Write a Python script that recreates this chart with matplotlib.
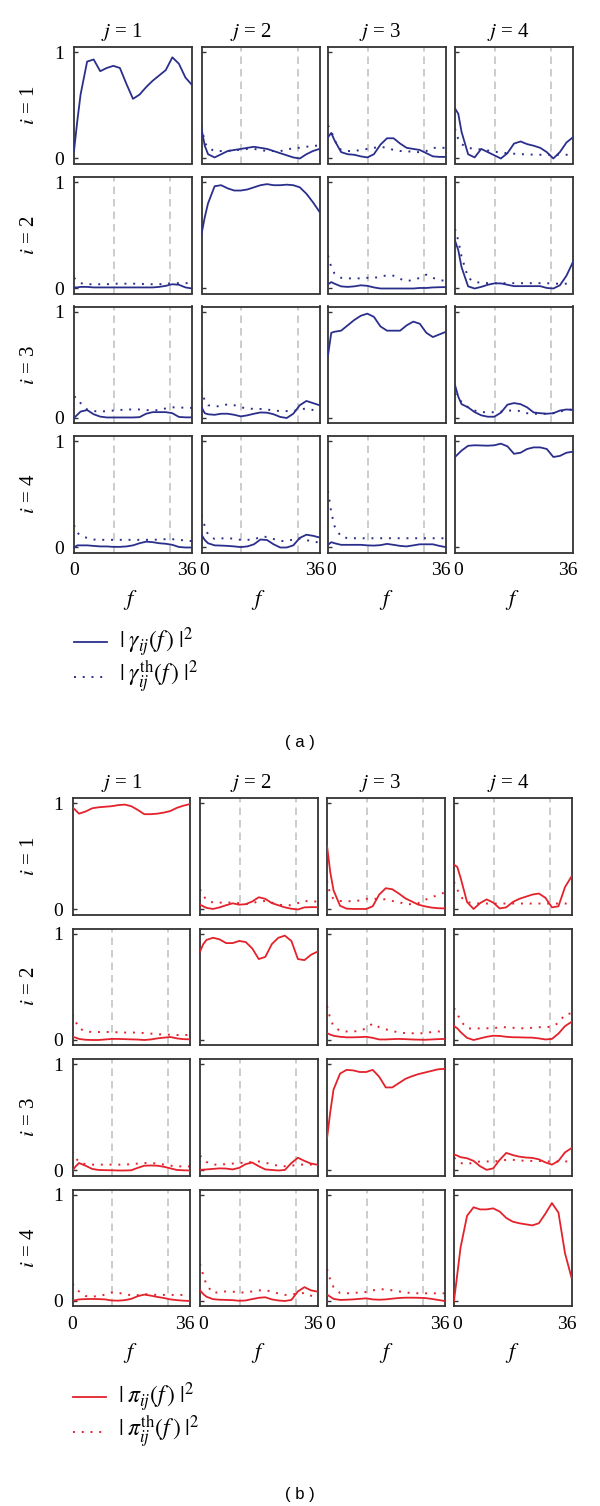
import matplotlib
matplotlib.use('Agg')
import matplotlib.pyplot as plt
import matplotlib.transforms as mtransforms
from matplotlib.lines import Line2D

plt.rcParams['font.family'] = ['Liberation Serif', 'DejaVu Serif']
plt.rcParams['mathtext.fontset'] = 'stix'

# frequency grid (shared by every curve)
F = [0, 1, 2, 4, 6, 8, 10, 12, 14, 16, 18, 20, 22, 24, 26, 28, 30, 32, 34, 36]
DASH_F = [12.2, 29.4]

# ---------------- (a) |gamma_ij(f)|^2 and theoretical ----------------
a11 = [0.07, 0.35, 0.6, 0.91, 0.93, 0.82, 0.85, 0.87, 0.85, 0.7, 0.56, 0.6, 0.67, 0.73, 0.78, 0.83, 0.95, 0.89, 0.76, 0.69]
a12 = [0.28, 0.12, 0.04, 0.01, 0.04, 0.07, 0.08, 0.09, 0.1, 0.11, 0.1, 0.09, 0.07, 0.05, 0.03, 0.01, 0.0, 0.04, 0.07, 0.09]
a12th = [0.3, 0.15, 0.1, 0.07, 0.07, 0.07, 0.08, 0.08, 0.09, 0.09, 0.08, 0.07, 0.07, 0.07, 0.08, 0.1, 0.1, 0.11, 0.12, 0.12]
a13 = [0.2, 0.24, 0.17, 0.06, 0.04, 0.035, 0.02, 0.01, 0.04, 0.13, 0.19, 0.19, 0.14, 0.1, 0.09, 0.08, 0.05, 0.02, 0.015, 0.015]
a13th = [0.31, 0.26, 0.17, 0.08, 0.07, 0.07, 0.08, 0.09, 0.1, 0.11, 0.1, 0.08, 0.07, 0.07, 0.06, 0.06, 0.07, 0.1, 0.1, 0.1]
a14 = [0.47, 0.42, 0.25, 0.04, 0.01, 0.09, 0.06, 0.03, 0.0, 0.05, 0.14, 0.16, 0.135, 0.12, 0.1, 0.06, 0.0, 0.06, 0.15, 0.2]
a14th = [0.28, 0.18, 0.135, 0.1, 0.09, 0.085, 0.075, 0.065, 0.055, 0.05, 0.045, 0.04, 0.04, 0.035, 0.035, 0.035, 0.035, 0.035, 0.035, 0.035]

a21 = [0.01, 0.01, 0.015, 0.015, 0.01, 0.01, 0.01, 0.01, 0.01, 0.01, 0.01, 0.01, 0.01, 0.01, 0.015, 0.025, 0.04, 0.035, 0.01, 0.0]
a21th = [0.1, 0.07, 0.05, 0.04, 0.04, 0.04, 0.04, 0.045, 0.045, 0.045, 0.045, 0.045, 0.04, 0.04, 0.04, 0.045, 0.05, 0.05, 0.05, 0.05]
a22 = [0.51, 0.67, 0.8, 0.96, 0.97, 0.94, 0.92, 0.92, 0.93, 0.95, 0.97, 0.98, 0.97, 0.97, 0.975, 0.97, 0.95, 0.89, 0.81, 0.72]
a23 = [0.04, 0.06, 0.045, 0.02, 0.015, 0.02, 0.03, 0.025, 0.01, 0.0, 0.0, 0.0, 0.0, 0.0, 0.0, 0.005, 0.005, 0.01, 0.012, 0.013]
a23th = [0.31, 0.2, 0.14, 0.1, 0.095, 0.095, 0.095, 0.1, 0.1, 0.11, 0.125, 0.12, 0.09, 0.07, 0.08, 0.1, 0.13, 0.1, 0.08, 0.07]
a24 = [0.45, 0.36, 0.2, 0.02, 0.0, 0.015, 0.035, 0.048, 0.048, 0.035, 0.022, 0.022, 0.022, 0.022, 0.022, 0.005, 0.0, 0.03, 0.12, 0.25]
a24th = [0.56, 0.45, 0.3, 0.1, 0.06, 0.055, 0.05, 0.05, 0.05, 0.05, 0.05, 0.05, 0.05, 0.05, 0.05, 0.05, 0.045, 0.045, 0.045, 0.045]

a31 = [0.0, 0.03, 0.06, 0.075, 0.035, 0.013, 0.005, 0.005, 0.005, 0.005, 0.005, 0.008, 0.04, 0.055, 0.055, 0.055, 0.045, 0.01, 0.006, 0.006]
a31th = [0.2, 0.19, 0.14, 0.08, 0.065, 0.06, 0.065, 0.07, 0.075, 0.08, 0.08, 0.08, 0.075, 0.07, 0.075, 0.09, 0.1, 0.1, 0.095, 0.095]
a32 = [0.1, 0.045, 0.035, 0.03, 0.04, 0.04, 0.03, 0.015, 0.025, 0.04, 0.052, 0.05, 0.035, 0.01, 0.0, 0.04, 0.12, 0.16, 0.14, 0.12]
a32th = [0.27, 0.16, 0.12, 0.11, 0.11, 0.13, 0.12, 0.1, 0.09, 0.085, 0.085, 0.08, 0.07, 0.065, 0.065, 0.065, 0.08, 0.09, 0.075, 0.06]
a33 = [0.59, 0.8, 0.81, 0.82, 0.87, 0.92, 0.96, 0.98, 0.95, 0.86, 0.82, 0.82, 0.82, 0.87, 0.905, 0.885, 0.8, 0.76, 0.785, 0.81]
a34 = [0.31, 0.2, 0.13, 0.1, 0.055, 0.025, 0.012, 0.012, 0.05, 0.125, 0.14, 0.13, 0.1, 0.052, 0.045, 0.04, 0.045, 0.07, 0.08, 0.076]
a34th = [0.23, 0.19, 0.15, 0.1, 0.07, 0.055, 0.054, 0.054, 0.06, 0.07, 0.07, 0.065, 0.045, 0.04, 0.038, 0.04, 0.045, 0.06, 0.075, 0.08]

a41 = [0.0, 0.02, 0.02, 0.02, 0.015, 0.01, 0.01, 0.006, 0.006, 0.01, 0.02, 0.04, 0.055, 0.05, 0.04, 0.035, 0.025, 0.005, 0.0, 0.0]
a41th = [0.21, 0.14, 0.11, 0.09, 0.075, 0.072, 0.072, 0.072, 0.072, 0.072, 0.072, 0.072, 0.072, 0.072, 0.075, 0.078, 0.078, 0.072, 0.065, 0.06]
a42 = [0.12, 0.07, 0.04, 0.02, 0.018, 0.015, 0.01, 0.004, 0.01, 0.03, 0.075, 0.07, 0.03, 0.0, 0.0, 0.02, 0.09, 0.12, 0.11, 0.094]
a42th = [0.3, 0.2, 0.12, 0.08, 0.085, 0.09, 0.08, 0.072, 0.072, 0.075, 0.1, 0.1, 0.08, 0.06, 0.062, 0.075, 0.085, 0.07, 0.055, 0.047]
a43 = [0.025, 0.05, 0.04, 0.025, 0.025, 0.025, 0.025, 0.02, 0.018, 0.022, 0.034, 0.025, 0.015, 0.01, 0.02, 0.03, 0.03, 0.03, 0.015, 0.003]
a43th = [0.53, 0.33, 0.2, 0.1, 0.088, 0.087, 0.087, 0.087, 0.087, 0.087, 0.087, 0.087, 0.087, 0.087, 0.087, 0.087, 0.087, 0.087, 0.087, 0.087]
a44 = [0.85, 0.88, 0.91, 0.955, 0.96, 0.958, 0.956, 0.96, 0.975, 0.95, 0.88, 0.89, 0.925, 0.94, 0.94, 0.925, 0.85, 0.86, 0.89, 0.9]

# ---------------- (b) |pi_ij(f)|^2 and theoretical ----------------
b11 = [0.96, 0.93, 0.9, 0.92, 0.95, 0.96, 0.965, 0.97, 0.98, 0.985, 0.97, 0.935, 0.895, 0.895, 0.9, 0.91, 0.925, 0.955, 0.975, 0.99]
b12 = [0.045, 0.03, 0.015, 0.005, 0.02, 0.04, 0.058, 0.045, 0.05, 0.075, 0.115, 0.1, 0.06, 0.04, 0.02, 0.007, 0.0, 0.02, 0.022, 0.022]
b12th = [0.19, 0.13, 0.09, 0.065, 0.065, 0.065, 0.065, 0.06, 0.05, 0.06, 0.075, 0.08, 0.065, 0.045, 0.04, 0.04, 0.06, 0.08, 0.075, 0.075]
b13 = [0.6, 0.35, 0.18, 0.035, 0.008, 0.005, 0.005, 0.005, 0.03, 0.14, 0.2, 0.19, 0.15, 0.105, 0.075, 0.045, 0.03, 0.018, 0.012, 0.01]
b13th = [0.27, 0.14, 0.1, 0.08, 0.078, 0.078, 0.085, 0.1, 0.1, 0.1, 0.095, 0.08, 0.07, 0.05, 0.05, 0.06, 0.09, 0.115, 0.135, 0.16]
b14 = [0.42, 0.4, 0.3, 0.07, 0.005, 0.06, 0.095, 0.065, 0.01, 0.02, 0.07, 0.1, 0.12, 0.14, 0.15, 0.11, 0.02, 0.03, 0.21, 0.31]
b14th = [0.26, 0.19, 0.12, 0.07, 0.058, 0.056, 0.056, 0.056, 0.056, 0.056, 0.056, 0.056, 0.056, 0.056, 0.056, 0.056, 0.056, 0.056, 0.056, 0.056]

b21 = [0.03, 0.022, 0.01, 0.002, 0.0, 0.0, 0.005, 0.01, 0.01, 0.008, 0.006, 0.004, 0.0, 0.005, 0.015, 0.022, 0.028, 0.015, 0.008, 0.006]
b21th = [0.24, 0.17, 0.11, 0.08, 0.075, 0.075, 0.075, 0.075, 0.072, 0.07, 0.07, 0.07, 0.065, 0.06, 0.055, 0.05, 0.05, 0.047, 0.047, 0.047]
b22 = [0.83, 0.9, 0.94, 0.96, 0.945, 0.91, 0.91, 0.93, 0.92, 0.86, 0.76, 0.78, 0.9, 0.96, 0.98, 0.93, 0.76, 0.75, 0.8, 0.83]
b23 = [0.065, 0.05, 0.04, 0.03, 0.025, 0.025, 0.027, 0.03, 0.02, 0.005, 0.005, 0.008, 0.01, 0.008, 0.005, 0.003, 0.002, 0.005, 0.008, 0.01]
b23th = [0.32, 0.2, 0.13, 0.085, 0.08, 0.08, 0.085, 0.11, 0.155, 0.12, 0.1, 0.085, 0.07, 0.065, 0.063, 0.063, 0.063, 0.075, 0.08, 0.08]
b24 = [0.13, 0.11, 0.075, 0.02, 0.0, 0.015, 0.03, 0.04, 0.038, 0.03, 0.026, 0.025, 0.023, 0.022, 0.015, 0.005, 0.01, 0.06, 0.13, 0.17]
b24th = [0.3, 0.25, 0.18, 0.11, 0.105, 0.11, 0.11, 0.11, 0.12, 0.12, 0.115, 0.11, 0.11, 0.115, 0.12, 0.12, 0.125, 0.16, 0.24, 0.25]

b31 = [0.0, 0.04, 0.07, 0.045, 0.015, 0.005, 0.003, 0.002, 0.0, 0.0, 0.002, 0.025, 0.045, 0.047, 0.045, 0.035, 0.02, 0.005, 0.002, 0.0]
b31th = [0.18, 0.12, 0.075, 0.06, 0.055, 0.055, 0.055, 0.055, 0.055, 0.055, 0.06, 0.065, 0.07, 0.07, 0.065, 0.055, 0.045, 0.04, 0.038, 0.038]
b32 = [0.006, 0.008, 0.01, 0.015, 0.02, 0.018, 0.01, 0.025, 0.06, 0.075, 0.04, 0.01, 0.005, 0.0, 0.005, 0.07, 0.12, 0.09, 0.065, 0.054]
b32th = [0.14, 0.11, 0.08, 0.055, 0.055, 0.06, 0.065, 0.07, 0.075, 0.08, 0.085, 0.075, 0.055, 0.045, 0.04, 0.045, 0.055, 0.055, 0.055, 0.055]
b33 = [0.3, 0.55, 0.76, 0.91, 0.945, 0.94, 0.925, 0.925, 0.945, 0.88, 0.78, 0.78, 0.82, 0.86, 0.885, 0.905, 0.92, 0.935, 0.95, 0.955]
b34 = [0.15, 0.14, 0.125, 0.115, 0.09, 0.04, 0.006, 0.02, 0.1, 0.165, 0.145, 0.13, 0.122, 0.118, 0.105, 0.076, 0.055, 0.09, 0.17, 0.21]
b34th = [0.12, 0.1, 0.07, 0.06, 0.075, 0.085, 0.085, 0.085, 0.09, 0.1, 0.1, 0.095, 0.09, 0.09, 0.09, 0.085, 0.085, 0.085, 0.085, 0.085]

b41 = [0.003, 0.008, 0.015, 0.018, 0.019, 0.018, 0.015, 0.005, 0.003, 0.008, 0.02, 0.045, 0.06, 0.05, 0.038, 0.028, 0.015, 0.008, 0.003, 0.0]
b41th = [0.16, 0.12, 0.09, 0.047, 0.042, 0.045, 0.06, 0.08, 0.075, 0.068, 0.052, 0.055, 0.065, 0.06, 0.057, 0.057, 0.057, 0.057, 0.057, 0.057]
b42 = [0.1, 0.065, 0.04, 0.017, 0.012, 0.01, 0.008, 0.002, 0.005, 0.018, 0.03, 0.035, 0.015, 0.005, 0.0, 0.01, 0.09, 0.13, 0.1, 0.088]
b42th = [0.35, 0.24, 0.15, 0.075, 0.085, 0.09, 0.088, 0.08, 0.08, 0.09, 0.1, 0.1, 0.09, 0.07, 0.057, 0.06, 0.07, 0.075, 0.05, 0.04]
b43 = [0.06, 0.04, 0.02, 0.01, 0.012, 0.015, 0.02, 0.025, 0.015, 0.012, 0.015, 0.022, 0.028, 0.031, 0.031, 0.03, 0.028, 0.02, 0.01, 0.0]
b43th = [0.3, 0.2, 0.13, 0.075, 0.072, 0.075, 0.08, 0.085, 0.1, 0.11, 0.11, 0.1, 0.09, 0.08, 0.075, 0.072, 0.072, 0.072, 0.072, 0.072]
b44 = [0.0, 0.25, 0.5, 0.8, 0.88, 0.86, 0.86, 0.87, 0.84, 0.78, 0.745, 0.73, 0.72, 0.71, 0.73, 0.82, 0.92, 0.83, 0.45, 0.22]

gamma = [[(a11, None), (a12, a12th), (a13, a13th), (a14, a14th)],
         [(a21, a21th), (a22, None), (a23, a23th), (a24, a24th)],
         [(a31, a31th), (a32, a32th), (a33, None), (a34, a34th)],
         [(a41, a41th), (a42, a42th), (a43, a43th), (a44, None)]]
pi = [[(b11, None), (b12, b12th), (b13, b13th), (b14, b14th)],
      [(b21, b21th), (b22, None), (b23, b23th), (b24, b24th)],
      [(b31, b31th), (b32, b32th), (b33, None), (b34, b34th)],
      [(b41, b41th), (b42, b42th), (b43, b43th), (b44, None)]]

W, H = 600, 1506
fig = plt.figure(figsize=(W / 100, H / 100), dpi=100)
DOT = (0, (1, 3.5))
FS = 15


def px_axes(left, top, w, h):
    return fig.add_axes([left / W, 1 - (top + h) / H, w / W, h / H])


def fx(x):
    return x / W


def fy(y):
    return 1 - y / H


def shift(label, dx_px):
    off = mtransforms.ScaledTranslation(dx_px / 100, 0, fig.dpi_scale_trans)
    label.set_transform(label.get_transform() + off)


def draw_block(series, color, lefts, tops, w, h, title_x, title_y, f_x, f_y,
               leg_x, leg_y, leg_labels, caption, caption_y):
    for i in range(4):
        for j in range(4):
            ax = px_axes(lefts[j], tops[i], w, h)
            solid, theory = series[i][j]
            if theory is not None:
                for d in DASH_F:
                    ax.axvline(d, color='#c4c4c4', lw=1.2, dashes=(4.5, 3), zorder=1)
                ax.plot(F, theory, color=color, lw=1.4, ls=DOT, zorder=2)
            ax.plot(F, solid, color=color, lw=1.3, zorder=3,
                    solid_joinstyle='round')
            ax.set_xlim(0, 36)
            ax.set_ylim(-0.047, 1.047)
            ax.set_yticks([0, 1])
            ax.set_xticks([0, 36])
            ax.tick_params(axis='y', direction='in', length=3, width=1,
                           color='#333333', pad=7, labelsize=FS - 1)
            ax.tick_params(axis='x', length=0, pad=7, labelsize=FS - 1)
            ax.set_yticklabels(['0', '1'] if j == 0 else [])
            ax.set_xticklabels(['0', '36'] if i == 3 else [])
            if i == 3:
                lab0, lab36 = ax.get_xticklabels()
                if j > 0:
                    shift(lab0, 3)
                shift(lab36, -5)
            for s in ax.spines.values():
                s.set_color('#333333')
                s.set_linewidth(1.3)
            if j == 0:
                fig.text(fx(30), fy(tops[i] + h / 2), r'$i$ = %d' % (i + 1),
                         rotation=90, ha='center', va='center', fontsize=FS)
            if i == 0:
                fig.text(fx(title_x[j]), fy(title_y), r'$j$ = %d' % (j + 1),
                         ha='center', va='center', fontsize=FS)
            if i == 3:
                fig.text(fx(f_x[j]), fy(f_y), r'$f$', ha='center', va='center', fontsize=FS + 1)

    for k, (lab, ls) in enumerate(zip(leg_labels, ['-', DOT])):
        y = fy(leg_y[k])
        fig.add_artist(Line2D([fx(leg_x), fx(leg_x + 33)], [y, y], color=color,
                              lw=1.3 if k == 0 else 1.4, ls=ls, transform=fig.transFigure))
        fig.text(fx(leg_x + 45), y, lab, ha='left', va='center', fontsize=FS + 2)

    fig.text(0.5, fy(caption_y), caption, ha='center', va='center',
             fontsize=12, family=['Liberation Sans', 'DejaVu Sans'])


draw_block(gamma, '#2b2f8c', [74, 201.5, 328, 455], [47, 177, 306.5, 436], 118, 116.5,
           [122, 251, 380, 508], 32, [130, 258, 386, 512], 600,
           74, [642, 677],
           [r'$|\;\gamma_{ij}(f\,)\;|^2$', r'$|\;\gamma_{ij}^{\rm th}(f\,)\;|^2$'],
           '( a )', 742)

draw_block(pi, '#e3222b', [72.5, 200, 327, 454], [798, 928.5, 1059, 1189.5], 117.5, 116.5,
           [122, 251, 380, 508], 783, [130, 258, 386, 512], 1353,
           72.5, [1397, 1432],
           [r'$|\;\pi_{ij}(f\,)\;|^2$', r'$|\;\pi_{ij}^{\rm th}(f\,)\;|^2$'],
           '( b )', 1495)

fig.savefig('out.png', dpi=100)
